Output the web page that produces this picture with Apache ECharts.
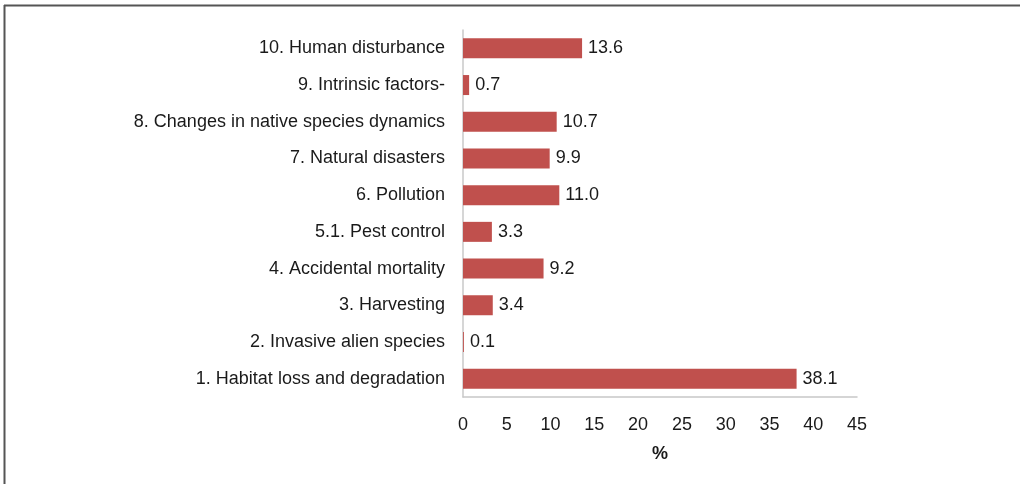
<!DOCTYPE html>
<html><head><meta charset="utf-8">
<script src="https://cdn.jsdelivr.net/npm/echarts@6/dist/echarts.min.js"></script>
<style>html,body{margin:0;padding:0;background:#fff}#c{width:1020px;height:484px}</style>
</head><body><div id="c"></div>
<script>
const categories = [
  "1. Habitat loss and degradation",
  "2. Invasive alien species",
  "3. Harvesting",
  "4. Accidental mortality",
  "5.1. Pest control",
  "6. Pollution",
  "7. Natural disasters",
  "8. Changes in native species dynamics",
  "9. Intrinsic factors-",
  "10. Human disturbance"
];
const values = [38.1, 0.1, 3.4, 9.2, 3.3, 11.0, 9.9, 10.7, 0.7, 13.6];
const xTicks = [0, 5, 10, 15, 20, 25, 30, 35, 40, 45];
const font = "'Liberation Sans', Arial, sans-serif";
const chart = echarts.init(document.getElementById('c'));
chart.setOption({
  animation: false,
  graphic: [
    {type:'line', shape:{x1:4, y1:5.5, x2:1020, y2:5.5}, style:{stroke:'#555', lineWidth:2}},
    {type:'line', shape:{x1:4.5, y1:5, x2:4.5, y2:484}, style:{stroke:'#555', lineWidth:2}}
  ],
  grid: {left: 463, right: 163, top: 30, bottom: 87},
  xAxis: {
    type: 'value', min: 0, max: 45, interval: 5,
    name: '%', nameLocation: 'middle', nameGap: 48,
    nameTextStyle: {fontFamily: font, fontSize: 18, fontWeight: 'bold', color: '#1a1a1a'},
    axisLine: {show: true, lineStyle: {color: '#c8c8c8', width: 1.5}},
    axisTick: {show: false},
    splitLine: {show: false},
    axisLabel: {fontFamily: font, fontSize: 18, color: '#1a1a1a', margin: 19,
      formatter: v => xTicks.includes(v) ? String(v) : ''}
  },
  yAxis: {
    type: 'category', data: categories,
    axisLine: {show: true, lineStyle: {color: '#c8c8c8', width: 1.5}},
    axisTick: {show: false},
    axisLabel: {fontFamily: font, fontSize: 18, color: '#1a1a1a', margin: 18}
  },
  series: [{
    type: 'bar', data: values, barWidth: 20,
    itemStyle: {color: '#c0504d'},
    label: {show: true, position: 'right', distance: 6, fontFamily: font, fontSize: 18, color: '#1a1a1a',
      formatter: p => p.value.toFixed(1)}
  }]
});
</script></body></html>
